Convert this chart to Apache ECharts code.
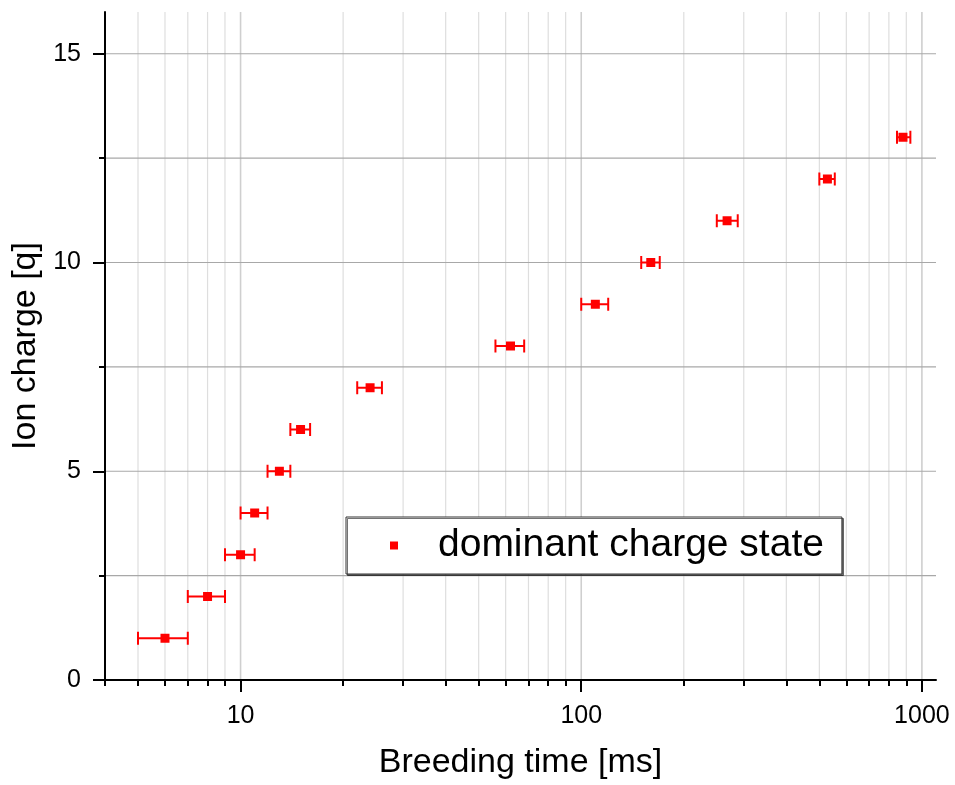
<!DOCTYPE html>
<html>
<head>
<meta charset="utf-8">
<script src="https://cdn.jsdelivr.net/npm/echarts@6/dist/echarts.min.js"></script>
<style>
html,body{margin:0;padding:0;background:#fff;}
#chart{width:955px;height:785px;}
</style>
</head>
<body>
<div id="chart"></div>
<script>
// ---- data ----
const charge   = [1, 2, 3, 4, 5, 6, 7, 8, 9, 10, 11, 12, 13];
const time     = [6, 8, 10, 11, 13, 15, 24, 62, 110, 160, 268, 528, 880];
const timeLow  = [5, 7, 9, 10, 12, 14, 22, 56, 100, 150, 250, 500, 845];
const timeHigh = [7, 9, 11, 12, 14, 16, 26, 68, 120, 170, 288, 555, 925];

const seriesName = 'dominant charge state';
const xTitle = 'Breeding time [ms]';
const yTitle = 'Ion charge [q]';

const xMajorTicks = [10, 100, 1000];
const xMinorTicks = [4, 5, 6, 7, 8, 9, 20, 30, 40, 50, 60, 70, 80, 90, 200, 300, 400, 500, 600, 700, 800, 900];
const xGridMinor = [5, 6, 7, 8, 9, 20, 30, 40, 50, 60, 70, 80, 90, 200, 300, 400, 500, 600, 700, 800, 900];
const yMajorTicks = [0, 5, 10, 15];
const yMinorTicks = [2.5, 7.5, 12.5];
const yGrid = [2.5, 5, 7.5, 10, 12.5, 15];

const X_MIN = 4, X_MAX = 1100, Y_MIN = 0, Y_MAX = 16;
const FONT = 'Liberation Sans, Arial, sans-serif';

const chart = echarts.init(document.getElementById('chart'), null, {renderer: 'canvas'});

function vLine(color, width) {
  return function (params, api) {
    const v = api.value(0);
    const p0 = api.coord([v, Y_MIN]);
    const p1 = api.coord([v, Y_MAX]);
    return {type: 'line', shape: {x1: p0[0], y1: p0[1], x2: p1[0], y2: p1[1]},
            style: {stroke: color, lineWidth: width}};
  };
}

const option = {
  backgroundColor: '#fff',
  animation: false,
  grid: {left: 105, right: 19, top: 12, bottom: 104, containLabel: false},
  xAxis: [
    {
      type: 'log', logBase: 10, min: X_MIN, max: X_MAX, position: 'bottom', z: 5,
      name: xTitle, nameLocation: 'middle', nameGap: 66,
      nameTextStyle: {fontSize: 34, fontFamily: FONT, color: '#000'},
      axisLine: {show: true, lineStyle: {color: '#000', width: 2}},
      axisTick: {show: true, customValues: xMajorTicks, length: 12, lineStyle: {color: '#000', width: 2}},
      axisLabel: {show: true, customValues: xMajorTicks, fontSize: 25, fontFamily: FONT, color: '#000', margin: 24,
                  formatter: function (v) { return String(Math.round(v)); }},
      splitLine: {show: false}, minorTick: {show: false}, minorSplitLine: {show: false}
    },
    {
      type: 'log', logBase: 10, min: X_MIN, max: X_MAX, position: 'bottom', z: 5,
      axisLine: {show: false},
      axisTick: {show: true, customValues: xMinorTicks, length: 6, lineStyle: {color: '#000', width: 2}},
      axisLabel: {show: false},
      splitLine: {show: false}
    }
  ],
  yAxis: [
    {
      type: 'value', min: Y_MIN, max: Y_MAX, position: 'left', z: 5,
      name: yTitle, nameLocation: 'middle', nameGap: 58, nameRotate: 90,
      nameTextStyle: {fontSize: 34, fontFamily: FONT, color: '#000'},
      axisLine: {show: true, lineStyle: {color: '#000', width: 2}},
      axisTick: {show: true, customValues: yMajorTicks, length: 12, lineStyle: {color: '#000', width: 2}},
      axisLabel: {show: true, customValues: yMajorTicks, fontSize: 25, fontFamily: FONT, color: '#000', margin: 24},
      splitLine: {show: false}
    },
    {
      type: 'value', min: Y_MIN, max: Y_MAX, position: 'left', z: 5,
      axisLine: {show: false},
      axisTick: {show: true, customValues: yMinorTicks, length: 6, lineStyle: {color: '#000', width: 2}},
      axisLabel: {show: false},
      splitLine: {show: false}
    }
  ],
  legend: {
    data: [seriesName], left: 346, top: 517, orient: 'horizontal',
    icon: 'rect', itemWidth: 8, itemHeight: 8,
    padding: [8, 18, 8, 44],
    backgroundColor: '#fff', borderColor: '#333', borderWidth: 1,
    shadowColor: 'rgba(0,0,0,0.55)', shadowOffsetX: 1.5, shadowOffsetY: 1.5, shadowBlur: 0,
    textStyle: {fontSize: 39, fontFamily: FONT, color: '#000', padding: [0, 0, 0, 35], lineHeight: 41},
    selectedMode: false
  },
  series: [
    {
      name: 'xgridMinor', type: 'custom', xAxisIndex: 0, yAxisIndex: 0, z: 1, silent: true,
      renderItem: vLine('#dedede', 1.2),
      data: xGridMinor.map(v => [v, Y_MIN]), encode: {x: 0, y: 1}
    },
    {
      name: 'xgridMajor', type: 'custom', xAxisIndex: 0, yAxisIndex: 0, z: 1, silent: true,
      renderItem: vLine('#cfcfcf', 1.6),
      data: xMajorTicks.map(v => [v, Y_MIN]), encode: {x: 0, y: 1}
    },
    {
      name: 'ygrid', type: 'custom', xAxisIndex: 0, yAxisIndex: 0, z: 1, silent: true,
      renderItem: function (params, api) {
        const v = api.value(1);
        const p0 = api.coord([X_MIN, v]);
        const p1 = api.coord([X_MAX, v]);
        return {type: 'line', shape: {x1: p0[0] + 1, y1: p0[1], x2: p1[0], y2: p1[1]},
                style: {stroke: '#a8a8a8', lineWidth: 1.2}};
      },
      data: yGrid.map(v => [X_MIN, v]), encode: {x: 0, y: 1}
    },
    {
      name: 'errorbars', type: 'custom', xAxisIndex: 0, yAxisIndex: 0, z: 3, silent: true,
      renderItem: function (params, api) {
        const q = api.value(1);
        const lo = api.coord([api.value(2), q]);
        const hi = api.coord([api.value(3), q]);
        const h = 6.5;
        const st = {stroke: '#ff0000', lineWidth: 2};
        return {type: 'group', children: [
          {type: 'line', shape: {x1: lo[0], y1: lo[1], x2: hi[0], y2: hi[1]}, style: st},
          {type: 'line', shape: {x1: lo[0], y1: lo[1] - h, x2: lo[0], y2: lo[1] + h}, style: st},
          {type: 'line', shape: {x1: hi[0], y1: hi[1] - h, x2: hi[0], y2: hi[1] + h}, style: st}
        ]};
      },
      data: charge.map((q, i) => [time[i], q, timeLow[i], timeHigh[i]]),
      encode: {x: 0, y: 1}
    },
    {
      name: seriesName, type: 'scatter', xAxisIndex: 0, yAxisIndex: 0, z: 4,
      symbol: 'rect', symbolSize: 9,
      itemStyle: {color: '#ff0000', opacity: 1},
      data: charge.map((q, i) => [time[i], q])
    }
  ]
};
chart.setOption(option);
</script>
</body>
</html>
